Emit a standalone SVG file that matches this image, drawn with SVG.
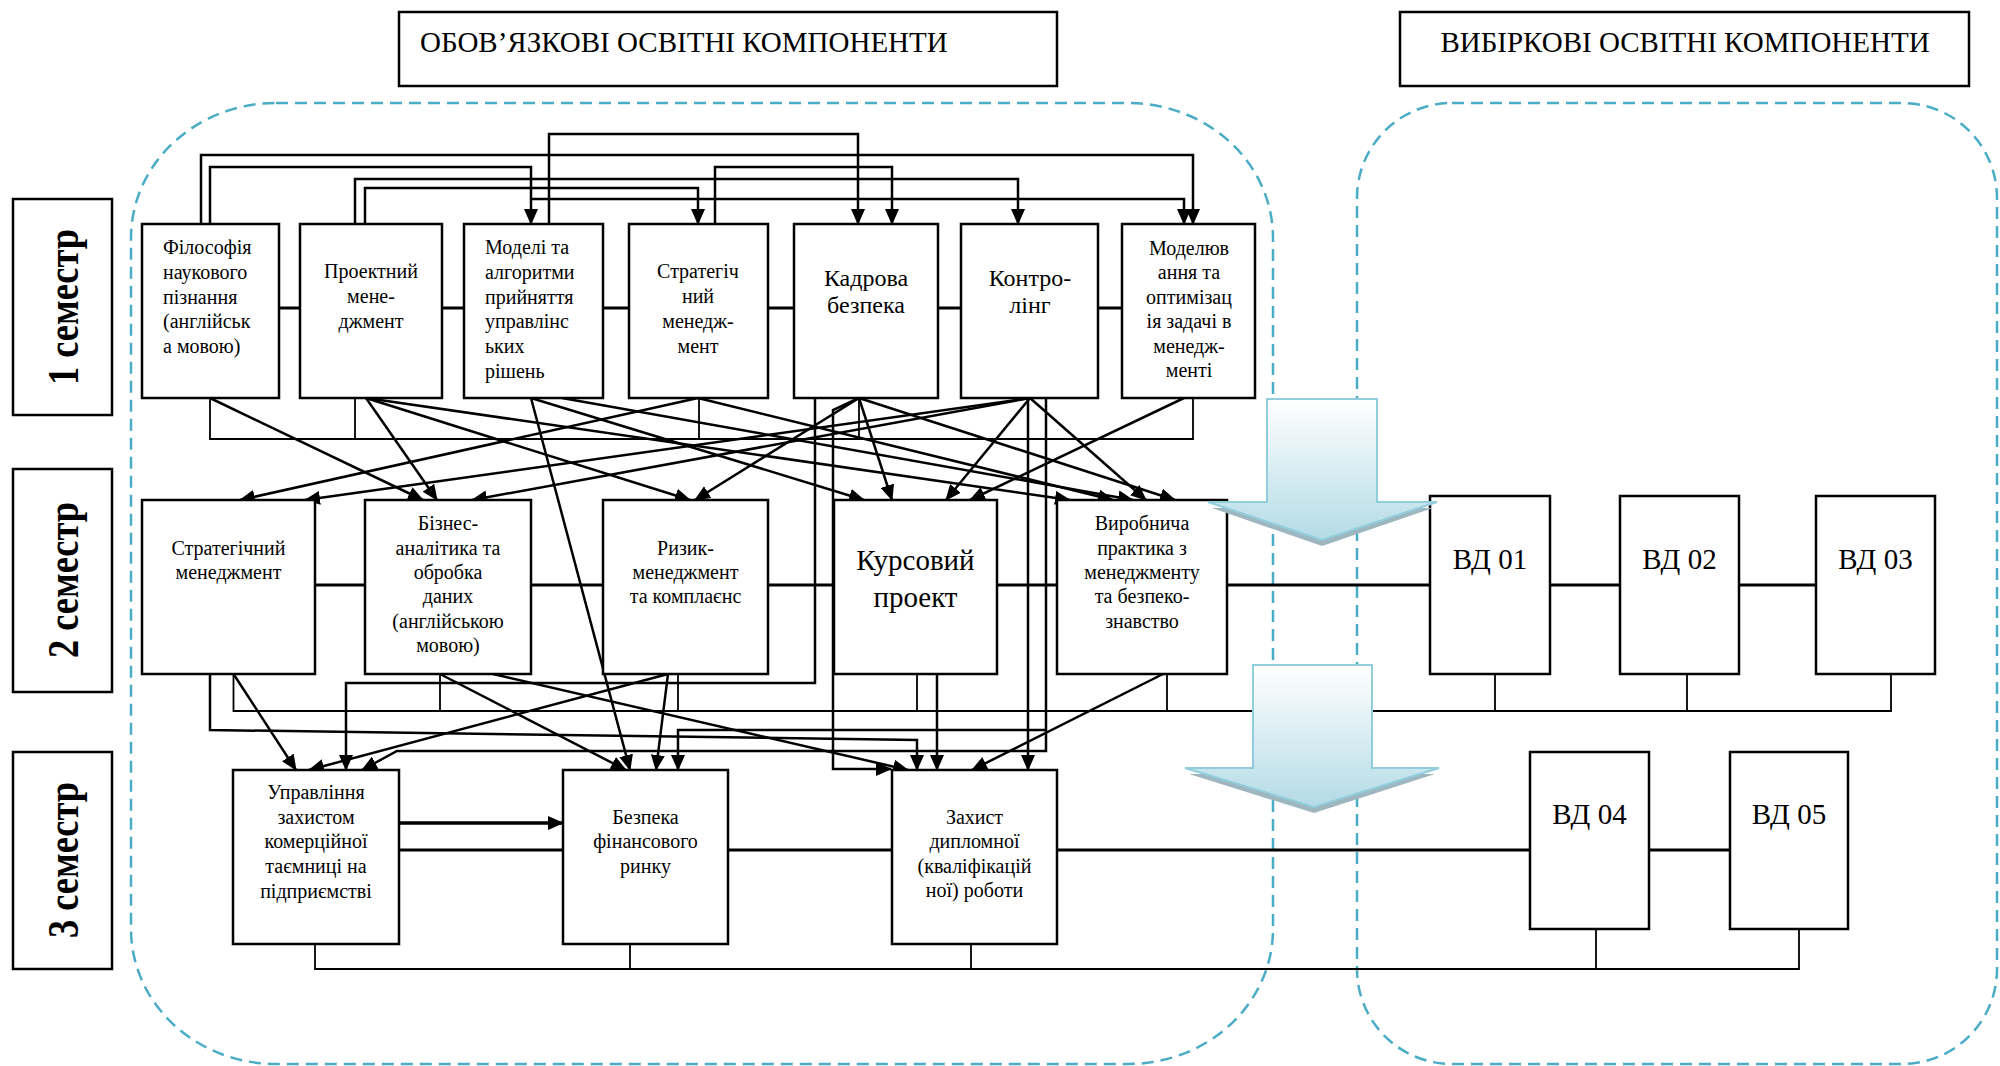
<svg xmlns="http://www.w3.org/2000/svg" width="2000" height="1066" viewBox="0 0 2000 1066">
<defs>
<style>
.box{fill:#fff;stroke:#000;stroke-width:2.5}
.t{font-family:"Liberation Serif","Times New Roman",serif;font-size:20px;fill:#000}
.c{text-anchor:middle}
.big{font-size:24px}
.xl{font-size:29px}
.hd{font-size:29px}
.sem{font-family:"Liberation Serif","Times New Roman",serif;font-weight:bold;font-size:44px;text-anchor:middle}
.ln{fill:none;stroke:#000;stroke-width:3}
.bus{fill:none;stroke:#000;stroke-width:1.8}
.ar{fill:none;stroke:#000;stroke-width:2.5;marker-end:url(#ah)}
.dash{fill:none;stroke:#4BACC6;stroke-width:2.5;stroke-dasharray:12 7}
.blk{fill:url(#bg);stroke:#92CDDC;stroke-width:2}
.shd{fill:#9DB6BF}
</style>
<marker id="ah" markerUnits="userSpaceOnUse" markerWidth="16" markerHeight="14" viewBox="0 0 16 14" refX="15" refY="7" orient="auto"><path d="M0,0 L16,7 L0,14 z" fill="#000"/></marker>
<linearGradient id="bg" x1="0" y1="0" x2="0" y2="1"><stop offset="0" stop-color="#FFFFFF"/><stop offset="1" stop-color="#B3DBE6"/></linearGradient>
</defs>
<rect width="2000" height="1066" fill="#fff"/>

<g id="regions">
<rect class="dash" x="131" y="103" width="1142" height="961" rx="145" ry="135"/>
<rect class="dash" x="1357" y="103" width="640" height="961" rx="95" ry="95"/>
</g>

<g id="header-mandatory">
<rect class="box" x="399" y="12" width="658" height="74"/>
<text class="t hd" x="420" y="52">ОБОВ’ЯЗКОВІ ОСВІТНІ КОМПОНЕНТИ</text>
</g>
<g id="header-elective">
<rect class="box" x="1400" y="12" width="569" height="74"/>
<text class="t hd c" x="1685" y="52">ВИБІРКОВІ ОСВІТНІ КОМПОНЕНТИ</text>
</g>

<g id="sem1"><rect class="box" x="13" y="199" width="99" height="216"/><text class="sem" transform="translate(78,307) rotate(-90)" textLength="156" lengthAdjust="spacingAndGlyphs">1 семестр</text></g>
<g id="sem2"><rect class="box" x="13" y="469" width="99" height="223"/><text class="sem" transform="translate(78,580) rotate(-90)" textLength="156" lengthAdjust="spacingAndGlyphs">2 семестр</text></g>
<g id="sem3"><rect class="box" x="13" y="752" width="99" height="217"/><text class="sem" transform="translate(78,860) rotate(-90)" textLength="156" lengthAdjust="spacingAndGlyphs">3 семестр</text></g>

<g id="connectors">
<path class="ln" d="M279,308 H300 M442,308 H464 M603,308 H629 M768,308 H794 M938,308 H961 M1098,308 H1122"/>
<path class="ln" d="M315,585 H365 M531,585 H603 M768,585 H834 M997,585 H1057 M1227,585 H1430 M1550,585 H1620 M1739,585 H1816"/>
<path class="ln" d="M399,850 H563 M728,850 H892 M1057,850 H1530 M1649,850 H1730"/>
<path class="bus" d="M210,398 V439 H1193 V398 M355,398 V439 M699,398 V439 M859,398 V439"/>
<path class="bus" d="M233.5,674 V711 H1891 V674 M440,674 V711 M678,674 V711 M917,674 V711 M1167,674 V711 M1495,674 V711 M1687,674 V711"/>
<path class="bus" d="M315,944 V969 H1799 V929 M630,944 V969 M971,944 V969 M1596,929 V969"/>
<path class="ar" d="M201,224 V155 H1193 V224"/>
<path class="ar" d="M210,224 V167 H531 V224"/>
<path class="ar" d="M355,224 V179 H1018 V224"/>
<path class="ar" d="M365,224 V188 H698 V224"/>
<path class="ar" d="M549,224 V134 H858 V224"/>
<path class="ar" d="M531,199 H1184 V224"/>
<path class="ar" d="M715,224 V167 H892 V224"/>
<path class="ar" d="M210,398 L423,500"/>
<path class="ar" d="M366,398 L437,500"/>
<path class="ar" d="M366,398 L690,500"/>
<path class="ar" d="M366,398 L1070,500"/>
<path class="ar" d="M531,398 L864,500"/>
<path class="ar" d="M562,398 L1133,500"/>
<path class="ar" d="M698,398 L240,500"/>
<path class="ar" d="M698,398 L1113,500"/>
<path class="ar" d="M859,398 L695,500"/>
<path class="ar" d="M859,398 L892,500"/>
<path class="ar" d="M859,398 L1175,500"/>
<path class="ar" d="M1030,398 L305,500"/>
<path class="ar" d="M1030,398 L472,500"/>
<path class="ar" d="M1030,398 L946,500"/>
<path class="ar" d="M1030,398 L1146,500"/>
<path class="ar" d="M1184,398 L970,500"/>
<path class="ar" d="M531,398 L630,770"/>
<path class="ar" d="M233.5,674 L296,770"/>
<path class="ar" d="M210,674 V730 L917,740 V770"/>
<path class="ar" d="M440,674 L626,770"/>
<path class="ar" d="M493,674 L908,770"/>
<path class="ar" d="M668,674 L309,770"/>
<path class="ar" d="M668,674 L656,770"/>
<path class="ar" d="M815,398 V683 H346 V770"/>
<path class="ar" d="M859,398 L833,410 V769 H891"/>
<path class="ar" d="M1046,398 V751 H397 L362,770"/>
<path class="ar" d="M1046,730 H678 V770"/>
<path class="ar" d="M1028,398 V770"/>
<path class="ar" d="M937,674 V770"/>
<path class="ar" d="M1163,674 L972,770"/>
<path class="ar" style="stroke-width:3.5" d="M399,823 H563"/>
</g>

<g id="n-filosofiya"><rect class="box" x="142" y="224" width="137" height="174"/>
<text class="t" x="163" y="254">Філософія</text><text class="t" x="163" y="279">наукового</text><text class="t" x="163" y="304">пізнання</text><text class="t" x="163" y="328">(англійськ</text><text class="t" x="163" y="353">а мовою)</text></g>
<g id="n-proektnyi"><rect class="box" x="300" y="224" width="142" height="174"/>
<text class="t c" x="371" y="278">Проектний</text><text class="t c" x="371" y="303">мене-</text><text class="t c" x="371" y="328">джмент</text></g>
<g id="n-modeli"><rect class="box" x="464" y="224" width="139" height="174"/>
<text class="t" x="485" y="254">Моделі та</text><text class="t" x="485" y="279">алгоритми</text><text class="t" x="485" y="304">прийняття</text><text class="t" x="485" y="328">управлінс</text><text class="t" x="485" y="353">ьких</text><text class="t" x="485" y="378">рішень</text></g>
<g id="n-strategich1"><rect class="box" x="629" y="224" width="139" height="174"/>
<text class="t c" x="698" y="278">Стратегіч</text><text class="t c" x="698" y="303">ний</text><text class="t c" x="698" y="328">менедж-</text><text class="t c" x="698" y="353">мент</text></g>
<g id="n-kadrova"><rect class="box" x="794" y="224" width="144" height="174"/>
<text class="t big c" x="866" y="286">Кадрова</text><text class="t big c" x="866" y="313">безпека</text></g>
<g id="n-kontroling"><rect class="box" x="961" y="224" width="137" height="174"/>
<text class="t big c" x="1030" y="286">Контро-</text><text class="t big c" x="1030" y="313">лінг</text></g>
<g id="n-modelyuvannya"><rect class="box" x="1122" y="224" width="133" height="174"/>
<text class="t c" x="1189" y="255">Моделюв</text><text class="t c" x="1189" y="279">ання та</text><text class="t c" x="1189" y="304">оптимізац</text><text class="t c" x="1189" y="328">ія задачі в</text><text class="t c" x="1189" y="353">менедж-</text><text class="t c" x="1189" y="377">менті</text></g>

<g id="n-strategichnyi"><rect class="box" x="142" y="500" width="173" height="174"/>
<text class="t c" x="228.5" y="555">Стратегічний</text><text class="t c" x="228.5" y="579">менеджмент</text></g>
<g id="n-biznes"><rect class="box" x="365" y="500" width="166" height="174"/>
<text class="t c" x="448" y="530">Бізнес-</text><text class="t c" x="448" y="555">аналітика та</text><text class="t c" x="448" y="579">обробка</text><text class="t c" x="448" y="603">даних</text><text class="t c" x="448" y="628">(англійською</text><text class="t c" x="448" y="652">мовою)</text></g>
<g id="n-ryzyk"><rect class="box" x="603" y="500" width="165" height="174"/>
<text class="t c" x="685.5" y="555">Ризик-</text><text class="t c" x="685.5" y="579">менеджмент</text><text class="t c" x="685.5" y="603">та комплаєнс</text></g>
<g id="n-kursovyi"><rect class="box" x="834" y="500" width="163" height="174"/>
<text class="t xl c" x="915.5" y="570">Курсовий</text><text class="t xl c" x="915.5" y="607">проект</text></g>
<g id="n-vyrobnycha"><rect class="box" x="1057" y="500" width="170" height="174"/>
<text class="t c" x="1142" y="530">Виробнича</text><text class="t c" x="1142" y="555">практика з</text><text class="t c" x="1142" y="579">менеджменту</text><text class="t c" x="1142" y="603">та безпеко-</text><text class="t c" x="1142" y="628">знавство</text></g>
<g id="n-vd01"><rect class="box" x="1430" y="496" width="120" height="178"/><text class="t xl c" x="1490" y="569">ВД 01</text></g>
<g id="n-vd02"><rect class="box" x="1620" y="496" width="119" height="178"/><text class="t xl c" x="1679.5" y="569">ВД 02</text></g>
<g id="n-vd03"><rect class="box" x="1816" y="496" width="119" height="178"/><text class="t xl c" x="1875.5" y="569">ВД 03</text></g>

<g id="n-upravlinnya"><rect class="box" x="233" y="770" width="166" height="174"/>
<text class="t c" x="316" y="799">Управління</text><text class="t c" x="316" y="824">захистом</text><text class="t c" x="316" y="848">комерційної</text><text class="t c" x="316" y="873">таємниці на</text><text class="t c" x="316" y="898">підприємстві</text></g>
<g id="n-bezpeka"><rect class="box" x="563" y="770" width="165" height="174"/>
<text class="t c" x="645.5" y="824">Безпека</text><text class="t c" x="645.5" y="848">фінансового</text><text class="t c" x="645.5" y="873">ринку</text></g>
<g id="n-zakhyst"><rect class="box" x="892" y="770" width="165" height="174"/>
<text class="t c" x="974.5" y="824">Захист</text><text class="t c" x="974.5" y="848">дипломної</text><text class="t c" x="974.5" y="873">(кваліфікацій</text><text class="t c" x="974.5" y="897">ної) роботи</text></g>
<g id="n-vd04"><rect class="box" x="1530" y="752" width="119" height="177"/><text class="t xl c" x="1589.5" y="824">ВД 04</text></g>
<g id="n-vd05"><rect class="box" x="1730" y="752" width="118" height="177"/><text class="t xl c" x="1789" y="824">ВД 05</text></g>

<g id="flow-arrows">
<polygon class="shd" points="1267,405 1377,405 1377,508 1433,508 1322,546 1212,508 1267,508"/>
<polygon class="blk" points="1267,399 1377,399 1377,502 1437,502 1322,540 1208,502 1267,502"/>
<polygon class="shd" points="1253,671 1372,671 1372,774 1435,774 1314,813 1189,774 1253,774"/>
<polygon class="blk" points="1253,665 1372,665 1372,768 1439,768 1314,807 1185,768 1253,768"/>
</g>
</svg>
